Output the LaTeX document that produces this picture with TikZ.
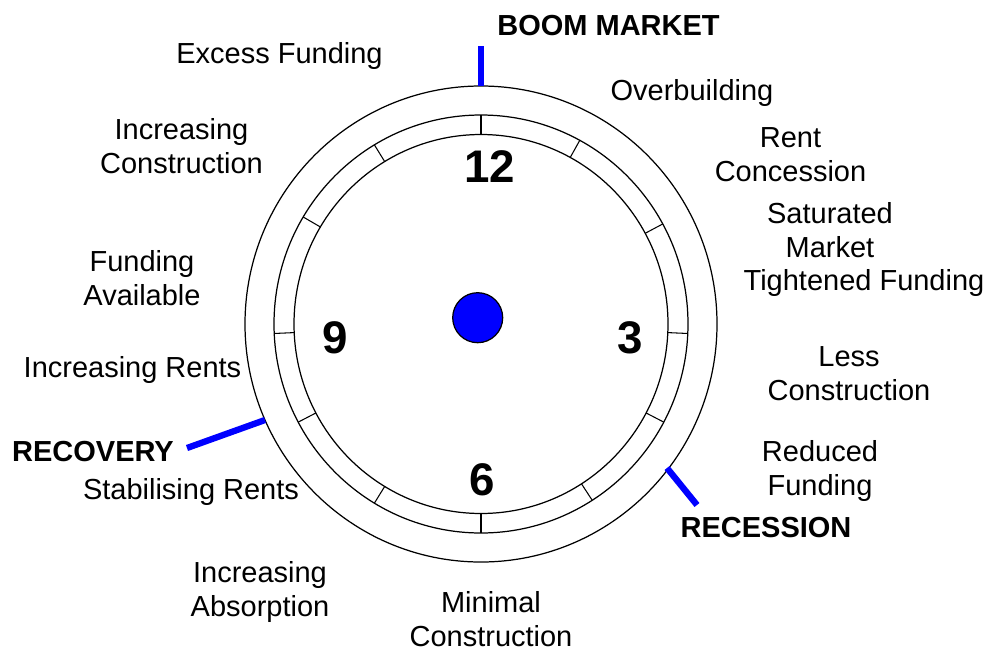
\documentclass[tikz,border=0pt]{standalone}
\usepackage{fontspec}
\setmainfont{Liberation Sans}

\begin{document}
\begin{tikzpicture}[x=0.02cm, y=-0.02cm,
    lbl/.style={font=\fontsize{16.5}{19.2}\selectfont, align=center, anchor=base, inner sep=0pt},
    phase/.style={font=\fontsize{16.5}{19.2}\selectfont\bfseries, anchor=base, inner sep=0pt},
    hour/.style={font=\fontsize{26}{30}\selectfont\bfseries, anchor=base, inner sep=0pt},
    ring/.style={line width=0.7pt},
    phaseline/.style={blue, line width=3.6pt}]
    \useasboundingbox (0,0) rectangle (987,653);

    \coordinate (c) at (481,324);
    \draw[ring] (c) ellipse [x radius=236, y radius=238];
    \draw[ring] (c) ellipse [x radius=207, y radius=209];
    \draw[ring] (c) ellipse [x radius=187, y radius=189.5];

    \foreach \a in {-90, -61.5, -28.6, 2.6, 28, 57.5, 90, 121, 152, 177.4, 210.8, 239}
        \draw[line width=0.6pt, shift={(c)}] (\a:187 and 189.5) -- (\a:207 and 209);

    \filldraw[fill=blue, draw=black, line width=0.7pt] (477.7,317.7) circle [radius=25];

    \node[hour] (n12) at (490,182) {12};
    \node[hour] (n3) at (630,353) {3};
    \node[hour] (n6) at (482,495) {6};
    \node[hour] (n9) at (335,353) {9};

    % phase marks
    \coordinate (boomin) at (481,86);
    \coordinate (boomout) at (481,46);
    \coordinate (recovin) at (265,420);
    \coordinate (recovout) at (187,448);
    \coordinate (recessin) at (667,468);
    \coordinate (recessout) at (697,505);
    \draw[phaseline] (boomin) -- (boomout);
    \draw[phaseline] (recovin) -- (recovout);
    \draw[phaseline] (recessin) -- (recessout);

    \node[phase] (boom) at (608.5,35) {BOOM MARKET};
    \node[phase] (recovery) at (93,461.7) {RECOVERY};
    \node[phase] (recession) at (766,537.3) {RECESSION};

    % two-line labels sit on their last baseline
    \node[lbl] (excess) at (279.5,63.3) {Excess Funding};
    \node[lbl] (overbuild) at (692,100) {Overbuilding};
    \node[lbl] (rent) at (790.5,181.7) {Rent\\Concession};
    \node[lbl] (saturated) at (830,257.3) {Saturated\\Market};
    \node[lbl] (tightened) at (864,290.7) {Tightened Funding};
    \node[lbl] (less) at (849,400) {Less\\Construction};
    \node[lbl] (reduced) at (820,495.7) {Reduced\\Funding};
    \node[lbl] (minimal) at (491,646.7) {Minimal\\Construction};
    \node[lbl] (absorption) at (260,616.7) {Increasing\\Absorption};
    \node[lbl] (stabilising) at (191,499.3) {Stabilising Rents};
    \node[lbl] (incrents) at (132.5,377.3) {Increasing Rents};
    \node[lbl] (available) at (142,305) {Funding\\Available};
    \node[lbl] (incconstr) at (181.5,173.3) {Increasing\\Construction};

\end{tikzpicture}
\end{document}
